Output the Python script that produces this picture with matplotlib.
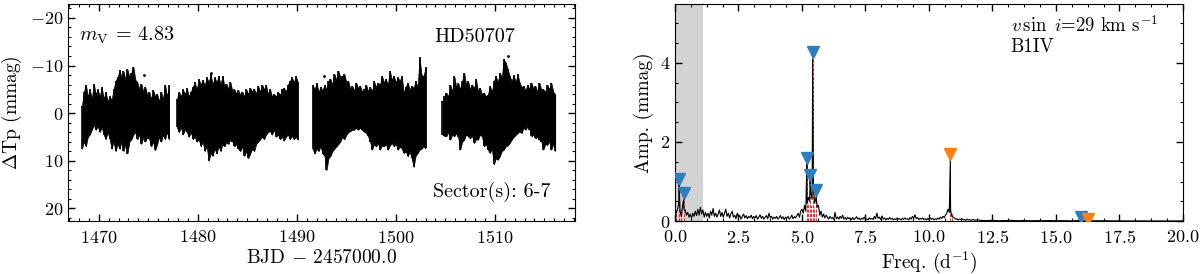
import numpy as np
import matplotlib
matplotlib.use('Agg')
import matplotlib.pyplot as plt
from matplotlib.ticker import MultipleLocator

plt.rcParams['font.family'] = 'cmr10'
plt.rcParams['mathtext.fontset'] = 'cm'
plt.rcParams['axes.formatter.use_mathtext'] = True

# light curve: upper / lower envelope (mmag), 0.2 d sampling
seg_start = [1468.3, 1477.9, 1491.6, 1504.7]
step = 0.2

up1 = [-1.5, -4.5, -6.0, -3.5, -5.0, -3.0, -6.2, -4.0, -5.0, -3.5, -5.5, -3.0, -4.5, -2.5, -3.5,
       -2.8, -5.0, -6.8, -7.5, -9.0, -7.5, -8.8, -7.0, -9.2, -7.5, -8.5, -9.7, -7.0, -6.5, -5.0,
       -6.2, -4.5, -5.5, -3.8, -4.5, -3.0, -4.8, -3.5, -4.0, -2.5, -4.5, -3.0, -6.0, -3.5, -5.8]
lo1 = [7.5, 6.0, 7.0, 5.0, 4.5, 3.5, 2.5, 3.5, 2.8, 4.0, 3.0, 4.5, 5.5, 4.0, 5.5,
       7.5, 6.0, 8.0, 6.5, 7.5, 6.0, 8.0, 6.5, 8.5, 6.0, 5.5, 4.5, 4.0, 5.5, 4.5,
       6.5, 5.0, 6.0, 5.0, 5.5, 7.0, 6.0, 7.8, 6.5, 5.0, 6.0, 4.5, 5.5, 4.0, 5.5]

up2 = [-3.0, -4.5, -3.5, -5.0, -4.0, -5.2, -3.5, -4.5, -5.5, -6.5, -5.0, -7.2, -6.0, -7.0, -5.8,
       -7.5, -6.5, -8.2, -6.0, -7.5, -6.5, -7.8, -6.0, -7.8, -5.5, -6.2, -5.0, -6.5, -4.5, -5.0,
       -4.0, -4.8, -3.8, -4.5, -3.5, -5.0, -4.0, -5.3, -4.5, -5.0, -4.2, -5.7, -4.5, -6.0, -5.0,
       -5.8, -4.0, -5.0, -3.5, -4.0, -3.5, -4.5, -3.8, -5.0, -5.3, -4.5, -6.0, -6.7, -7.5, -6.5,
       -7.8, -6.5]
lo2 = [3.0, 4.0, 3.0, 4.5, 3.5, 4.0, 5.0, 4.0, 5.5, 5.0, 6.0, 5.5, 7.0, 6.0, 8.0,
       7.0, 10.0, 8.5, 9.0, 7.5, 8.5, 7.0, 8.0, 6.5, 7.0, 6.0, 6.5, 5.5, 6.0, 7.0,
       6.5, 7.5, 8.0, 7.0, 9.0, 8.0, 9.5, 8.5, 7.5, 8.0, 6.5, 6.0, 5.5, 5.0, 5.5,
       4.5, 4.0, 3.8, 4.5, 3.5, 5.0, 4.5, 5.5, 5.0, 5.8, 5.0, 4.5, 5.5, 4.8, 5.5,
       5.0, 5.6]

up3 = [-6.0, -5.0, -6.3, -4.5, -5.5, -4.8, -6.0, -5.0, -6.8, -7.2, -6.0, -8.2, -7.0, -8.9, -7.5,
       -7.8, -8.2, -6.5, -6.8, -5.0, -5.7, -4.8, -6.4, -5.2, -5.7, -4.5, -5.0, -6.0, -4.6, -5.5,
       -4.6, -6.7, -5.5, -6.4, -6.0, -7.8, -6.5, -7.1, -6.0, -8.9, -7.0, -7.8, -6.5, -7.5, -6.8,
       -7.8, -4.3, -5.5, -6.4, -5.0, -5.7, -5.3, -6.7, -5.5, -11.7, -8.0, -7.8, -9.6]
lo3 = [7.5, 8.5, 7.5, 8.0, 7.0, 8.5, 9.0, 12.0, 9.5, 9.0, 8.0, 7.5, 7.0, 6.5, 6.0,
       5.0, 5.5, 4.6, 4.0, 3.8, 3.5, 3.5, 3.1, 3.5, 3.1, 3.5, 3.9, 4.2, 4.9, 6.0,
       7.7, 6.5, 7.0, 6.3, 7.7, 6.8, 7.0, 6.5, 7.7, 6.8, 6.3, 7.0, 6.5, 7.7, 7.0,
       7.5, 8.4, 8.0, 9.1, 8.1, 9.5, 11.3, 9.0, 8.4, 7.7, 7.5, 7.0, 7.4]

up4 = [-2.5, -3.6, -4.3, -3.5, -6.0, -4.5, -7.8, -5.5, -6.4, -5.0, -6.7, -8.5, -6.0, -6.7, -5.0,
       -6.0, -5.2, -7.1, -4.6, -5.3, -4.0, -4.3, -3.5, -3.9, -5.7, -4.5, -6.7, -7.8, -6.5, -8.5,
       -7.5, -11.3, -10.6, -9.2, -7.8, -6.7, -8.0, -6.5, -8.2, -6.4, -5.5, -5.7, -4.8, -6.0, -5.0,
       -6.4, -5.0, -5.7, -4.5, -6.4, -4.8, -5.0, -4.5, -6.0, -5.0, -6.4, -4.5, -3.9]
lo4 = [4.5, 4.8, 4.9, 4.0, 5.6, 4.5, 4.9, 4.2, 5.0, 7.7, 6.0, 5.6, 4.5, 4.9, 5.3,
       4.8, 6.3, 5.5, 5.6, 4.5, 4.9, 7.0, 6.5, 7.7, 8.4, 7.5, 10.8, 9.5, 9.8, 9.1,
       8.0, 7.7, 7.0, 6.8, 6.3, 5.6, 5.0, 4.6, 4.2, 3.9, 4.2, 3.1, 3.5, 2.8, 3.5,
       4.9, 4.5, 5.3, 5.0, 5.6, 6.0, 7.7, 6.5, 6.7, 6.0, 7.7, 6.5, 8.0]

# a few isolated points outside the envelope
stray_t = [1474.6, 1481.3, 1492.7, 1511.35]
stray_m = [-8.0, -8.5, -7.8, -12.0]

uppers = [up1, up2, up3, up4]
lowers = [lo1, lo2, lo3, lo4]

# amplitude spectrum (mmag): background on a 0.05 d^-1 grid from 0 to 12
amp_bg = [
    0.12, 0.22, 0.30, 0.45, 0.25, 0.12, 0.40, 0.30, 0.28, 0.15, 0.22, 0.10, 0.18, 0.08, 0.20, 0.12, 0.25, 0.14, 0.30, 0.15,
    0.35, 0.18, 0.28, 0.10, 0.22, 0.12, 0.20, 0.08, 0.25, 0.15, 0.32, 0.12, 0.20, 0.10, 0.18, 0.28, 0.12, 0.22, 0.10, 0.20,
    0.30, 0.12, 0.20, 0.08, 0.18, 0.25, 0.10, 0.15, 0.06, 0.20, 0.10, 0.14, 0.05, 0.12, 0.18, 0.08, 0.14, 0.06, 0.12, 0.09,
    0.15, 0.06, 0.12, 0.08, 0.14, 0.05, 0.10, 0.16, 0.07, 0.12, 0.05, 0.10, 0.14, 0.06, 0.20, 0.09, 0.12, 0.05, 0.10, 0.07,
    0.12, 0.05, 0.09, 0.14, 0.06, 0.11, 0.04, 0.10, 0.07, 0.12, 0.05, 0.09, 0.15, 0.06, 0.11, 0.08, 0.14, 0.20, 0.10, 0.25,
    0.30, 0.20, 0.40, 0.25, 0.45, 0.60, 0.50, 0.70, 0.55, 0.85, 0.45, 0.60, 0.35, 0.40, 0.15, 0.25, 0.10, 0.18, 0.08, 0.15,
    0.10, 0.05, 0.12, 0.07, 0.09, 0.04, 0.22, 0.06, 0.10, 0.05, 0.12, 0.07, 0.15, 0.05, 0.09, 0.04, 0.10, 0.06, 0.08, 0.04,
    0.09, 0.04, 0.07, 0.11, 0.05, 0.08, 0.03, 0.07, 0.05, 0.10, 0.04, 0.06, 0.03, 0.08, 0.05, 0.07, 0.04, 0.12, 0.06, 0.20,
    0.07, 0.10, 0.04, 0.13, 0.05, 0.08, 0.03, 0.07, 0.04, 0.09, 0.05, 0.07, 0.03, 0.06, 0.04, 0.08, 0.05, 0.06, 0.03, 0.07,
    0.04, 0.08, 0.05, 0.06, 0.03, 0.09, 0.05, 0.12, 0.07, 0.16, 0.06, 0.09, 0.04, 0.07, 0.05, 0.08, 0.04, 0.06, 0.03, 0.07,
    0.04, 0.08, 0.05, 0.07, 0.03, 0.06, 0.04, 0.08, 0.05, 0.10, 0.07, 0.12, 0.09, 0.15, 0.20, 0.30, 0.22, 0.28, 0.12, 0.10,
    0.08, 0.05, 0.06, 0.03, 0.05, 0.04, 0.06, 0.03, 0.04, 0.02, 0.05, 0.03, 0.04, 0.02, 0.03, 0.04, 0.02, 0.03, 0.02, 0.03,
]
# tail from 12 to 20 on a 0.25 d^-1 grid
amp_tail = [0.020, 0.015, 0.020, 0.010, 0.015, 0.020, 0.010, 0.015, 0.010, 0.012, 0.010, 0.015,
            0.010, 0.012, 0.008, 0.010, 0.020, 0.015, 0.010, 0.008, 0.010, 0.006, 0.008, 0.005,
            0.006, 0.005, 0.006, 0.004, 0.005, 0.004, 0.005, 0.004, 0.004]

# significant peaks
pk_freq = [0.16, 0.34, 5.19, 5.32, 5.42, 5.56, 10.84, 16.00, 16.26]
pk_amp = [0.95, 0.55, 1.45, 1.02, 4.10, 0.62, 1.55, 0.03, 0.02]

# extracted frequencies (triangles): independent (blue) and combination (orange)
ind_freq = [0.16, 0.34, 5.19, 5.32, 5.42, 5.56, 16.00]
ind_amp = [1.06, 0.72, 1.60, 1.17, 4.27, 0.78, 0.10]
comb_freq = [10.84, 16.26]
comb_amp = [1.69, 0.06]
# extra red markers of extracted frequencies under the noise
red_freq = [0.05, 0.25, 5.25, 5.37, 5.47, 10.90]
red_amp = [0.25, 0.30, 0.45, 0.40, 0.35, 0.20]

fig = plt.figure(figsize=(12, 2.74), dpi=100)
ax1 = fig.add_axes([0.0567, 0.193, 0.4225, 0.792])
ax2 = fig.add_axes([0.5625, 0.193, 0.4233, 0.792])

# ---- light curve
for t0, up, lo in zip(seg_start, uppers, lowers):
    t = t0 + step * np.arange(len(up))
    ax1.fill_between(t, up, lo, color='k', lw=0.5)
    ax1.vlines(t, up, lo, color='k', lw=1.2)
ax1.plot(stray_t, stray_m, 'k.', ms=2)

ax1.set_xlim(1466.9, 1518.1)
ax1.set_ylim(22.7, -22.9)
ax1.xaxis.set_major_locator(MultipleLocator(10))
ax1.xaxis.set_minor_locator(MultipleLocator(1))
ax1.yaxis.set_major_locator(MultipleLocator(10))
ax1.yaxis.set_minor_locator(MultipleLocator(2))
ax1.set_xlabel(r'BJD $-$ 2457000.0', fontsize=14, labelpad=2)
ax1.set_ylabel(r'$\Delta$Tp (mmag)', fontsize=14)
ax1.text(0.022, 0.834, r'$m_{\rm V}$ = 4.83', transform=ax1.transAxes, fontsize=14.5)
ax1.text(0.803, 0.826, 'HD50707', transform=ax1.transAxes, fontsize=14.5, ha='center')
ax1.text(0.836, 0.11, 'Sector(s): 6-7', transform=ax1.transAxes, fontsize=14.5, ha='center')

# ---- amplitude spectrum
f_bg = 0.05 * np.arange(len(amp_bg))
f_tail = 12.0 + 0.25 * np.arange(len(amp_tail))
freq = np.concatenate([f_bg, f_tail, pk_freq])
amp = np.concatenate([amp_bg, amp_tail, pk_amp])
order = np.argsort(freq)

ax2.axvspan(0, 1.12, color='lightgray', lw=0, zorder=0)
ax2.vlines(ind_freq + comb_freq + red_freq, 0, ind_amp + comb_amp + red_amp,
           color='red', lw=0.6, ls='--', zorder=1)
ax2.plot(freq[order], amp[order], color='k', lw=0.8, zorder=2)
ax2.plot(ind_freq, ind_amp, 'v', color='#2e7ebf', ms=8, zorder=3)
ax2.plot(comb_freq, comb_amp, 'v', color='#ff7f0e', ms=8, zorder=3)

ax2.set_xlim(0, 20)
ax2.set_ylim(0, 5.48)
ax2.xaxis.set_major_locator(MultipleLocator(2.5))
ax2.xaxis.set_minor_locator(MultipleLocator(0.625))
ax2.yaxis.set_major_locator(MultipleLocator(2))
ax2.yaxis.set_minor_locator(MultipleLocator(0.5))
ax2.set_xlabel(r'Freq. (d$^{-1}$)', fontsize=14, labelpad=2)
ax2.set_ylabel('Amp. (mmag)', fontsize=14)
ax2.text(0.661, 0.872, r'$v\,\sin\ i$=29 km s$^{-1}$', transform=ax2.transAxes, fontsize=13.5)
ax2.text(0.661, 0.78, 'B1IV', transform=ax2.transAxes, fontsize=13.5)

for ax in (ax1, ax2):
    ax.tick_params(which='both', direction='in', top=True, right=True, labelsize=13)
    ax.tick_params(which='major', length=5, width=1)
    ax.tick_params(which='minor', length=2.5, width=0.8)
    ax.tick_params(axis='x', which='major', pad=6)

fig.savefig('out.png', dpi=100)
